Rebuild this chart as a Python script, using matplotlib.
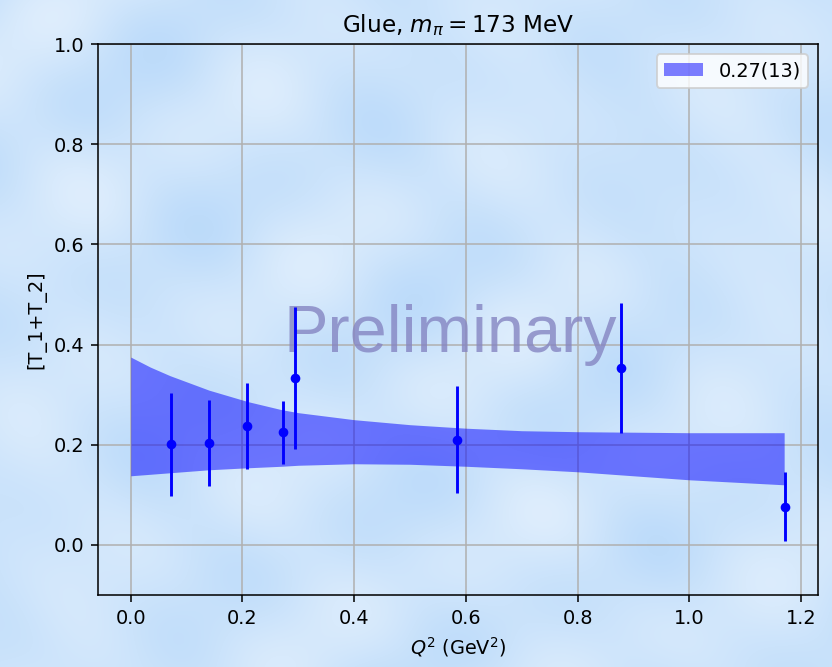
import numpy as np
import matplotlib
matplotlib.use("Agg")
import matplotlib.pyplot as plt

# ---- data ----
q2 = [0.073, 0.140, 0.208, 0.272, 0.294, 0.584, 0.878, 1.172]
vals = [0.201, 0.204, 0.237, 0.225, 0.333, 0.210, 0.353, 0.076]
errs = [0.103, 0.086, 0.086, 0.063, 0.141, 0.107, 0.129, 0.069]

band_x = [0.0, 0.035, 0.07, 0.14, 0.21, 0.27, 0.3, 0.4, 0.5, 0.6, 0.7, 0.8, 0.9, 1.0, 1.17]
band_hi = [0.375, 0.355, 0.338, 0.309, 0.286, 0.270, 0.264, 0.250, 0.240, 0.233, 0.228, 0.226, 0.225, 0.224, 0.224]
band_lo = [0.138, 0.141, 0.144, 0.150, 0.154, 0.157, 0.159, 0.162, 0.161, 0.157, 0.152, 0.146, 0.138, 0.130, 0.120]

band_label = "0.27(13)"
title = r"Glue, $m_\pi = 173$ MeV"
xlabel = r"$Q^2$ (GeV$^2$)"
ylabel = "[T_1+T_2]"
xticks = [0.0, 0.2, 0.4, 0.6, 0.8, 1.0, 1.2]
yticks = [0.0, 0.2, 0.4, 0.6, 0.8, 1.0]

DPI = 139
fig = plt.figure(figsize=(832 / DPI, 667 / DPI), dpi=DPI)

# decorative sky-like background
bg = fig.add_axes([0, 0, 1, 1], zorder=-10)
yy, xx = np.mgrid[0:667, 0:832].astype(float)
t = (np.sin(xx / 37.0 + np.sin(yy / 53.0)) + np.sin(yy / 29.0 + xx / 61.0)
     + 0.7 * np.sin((xx + 1.3 * yy) / 45.0) + 0.5 * np.sin((xx - yy) / 23.0))
t = (t - t.min()) / (t.max() - t.min())
c1 = np.array([0.74, 0.86, 0.98])
c2 = np.array([0.87, 0.93, 0.99])
img = c1[None, None, :] * (1 - t[..., None]) + c2[None, None, :] * t[..., None]
bg.imshow(img, aspect="auto", extent=[0, 1, 0, 1], interpolation="bilinear")
bg.axis("off")

ax = fig.add_axes([98 / 832, 72 / 667, 720 / 832, 551 / 667])
ax.set_facecolor("none")

ax.fill_between(band_x, band_lo, band_hi, color="blue", alpha=0.5,
                linewidth=0, label=band_label, zorder=2)
ax.errorbar(q2, vals, yerr=errs, fmt="o", color="blue", markersize=4,
            elinewidth=1.5, capsize=0, zorder=4)

ax.text(0.49, 0.4416, "Preliminary", transform=ax.transAxes,
        fontsize=48 * 100 / DPI, family="Liberation Sans", color=(0.52, 0.52, 0.76),
        alpha=0.8, ha="center", va="baseline", zorder=3)

ax.set_xlim(-0.0586, 1.2306)
ax.set_ylim(-0.1, 1.0)
ax.set_xticks(xticks)
ax.set_yticks(yticks)
ax.grid(True)
ax.set_axisbelow(True)
ax.set_title(title)
ax.set_xlabel(xlabel)
ax.set_ylabel(ylabel)
ax.legend(loc="upper right")

fig.savefig("out.png", dpi=DPI)
